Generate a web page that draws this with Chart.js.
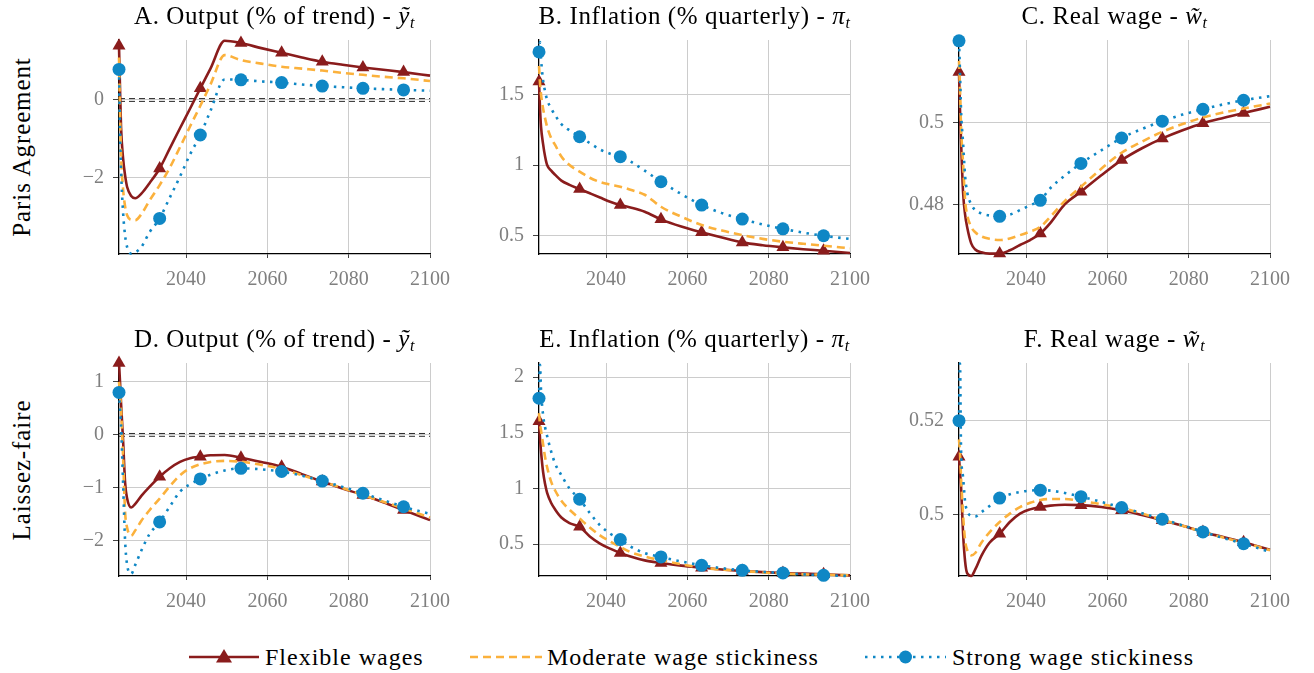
<!DOCTYPE html>
<html><head><meta charset="utf-8">
<script src="https://cdn.jsdelivr.net/npm/chart.js@4.4.0/dist/chart.umd.min.js"></script>
<style>
body{margin:0;width:1314px;height:673px;background:#fff;position:relative;overflow:hidden;font-family:"Liberation Serif",serif;}
canvas{position:absolute;}
.t{position:absolute;font-size:25px;letter-spacing:0.6px;line-height:26px;color:#000;white-space:nowrap;transform:translateX(-50%);}
.t i{font-style:italic;}
.t sub{font-size:16px;vertical-align:-4px;line-height:0;}
.row{position:absolute;font-size:25px;letter-spacing:0.9px;white-space:nowrap;transform:translate(-50%,-50%) rotate(-90deg);}
.lg{position:absolute;font-size:24px;letter-spacing:1px;line-height:28px;top:643px;white-space:nowrap;}
svg{position:absolute;}
</style></head><body>
<script>
// ---------------- data ----------------
const YEARS = [2023.5,2023.75,2024,2024.5,2025,2025.5,2026.5,2027.5,2029,2031,2033.5,2036,2038.5,2041,2043.5,2046,2049.5,2053.5,2058.5,2063.5,2068.5,2073.5,2078.5,2083.5,2088.5,2093.5,2100];
const MARK_YEARS = [2023.5,2033.5,2043.5,2053.5,2063.5,2073.5,2083.5,2093.5];
const X_TICKS = [2040,2060,2080,2100];
const SERIES_NAMES = ['Flexible wages','Moderate wage stickiness','Strong wage stickiness'];

// Panel A: Output, Paris Agreement
const A_FLEX   = [1.40,0.30,-0.70,-1.50,-1.95,-2.25,-2.48,-2.54,-2.42,-2.15,-1.77,-1.25,-0.73,-0.22,0.30,0.81,1.53,1.47,1.34,1.22,1.10,0.99,0.91,0.84,0.78,0.72,0.63];
const A_MOD    = [1.10,-0.30,-1.40,-2.30,-2.75,-2.98,-3.10,-3.11,-2.95,-2.60,-2.20,-1.75,-1.22,-0.68,-0.15,0.40,1.16,1.03,0.94,0.86,0.81,0.76,0.70,0.65,0.60,0.56,0.49];
const A_STRONG = [0.79,-0.80,-1.80,-2.90,-3.50,-3.80,-3.97,-3.94,-3.80,-3.42,-3.06,-2.52,-1.98,-1.40,-0.905,-0.28,0.53,0.52,0.48,0.45,0.40,0.36,0.33,0.30,0.28,0.26,0.24];
const A_YTICKS = [-2,0];
const A_YLABELS = ['\u22122','0'];

// Panel B: Inflation, Paris Agreement
const B_FLEX   = [1.59,1.40,1.27,1.15,1.06,1.00,0.96,0.93,0.89,0.86,0.83,0.80,0.77,0.74,0.717,0.70,0.67,0.616,0.565,0.524,0.487,0.453,0.433,0.418,0.405,0.394,0.378];
const B_MOD    = [1.70,1.58,1.50,1.40,1.33,1.27,1.19,1.14,1.06,1.00,0.953,0.91,0.88,0.862,0.847,0.825,0.79,0.705,0.635,0.576,0.537,0.505,0.478,0.458,0.443,0.43,0.411];
const B_STRONG = [1.80,1.87,1.75,1.60,1.52,1.46,1.40,1.35,1.29,1.245,1.20,1.155,1.11,1.08,1.059,1.025,0.96,0.882,0.795,0.717,0.66,0.618,0.58,0.549,0.522,0.50,0.477];
const B_YTICKS = [0.5,1,1.5];
const B_YLABELS = ['0.5','1','1.5'];

// Panel C: Real wage, Paris Agreement
const C_FLEX   = [0.5123,0.503,0.4955,0.483,0.4775,0.4745,0.4705,0.469,0.4683,0.4680,0.4680,0.4688,0.4701,0.4713,0.4729,0.4755,0.4800,0.4831,0.4871,0.4908,0.4937,0.4961,0.4981,0.4998,0.5011,0.5023,0.5038];
const C_MOD    = [0.515,0.508,0.499,0.490,0.481,0.4775,0.4745,0.4732,0.4722,0.4716,0.4713,0.4717,0.4725,0.4734,0.4745,0.4770,0.4808,0.4843,0.4887,0.4926,0.4953,0.4977,0.4996,0.5012,0.5024,0.5034,0.5046];
const C_STRONG = [0.5199,0.512,0.503,0.495,0.487,0.483,0.4800,0.4786,0.4778,0.4773,0.4771,0.4775,0.4786,0.4798,0.4810,0.4840,0.4870,0.4900,0.4932,0.4962,0.4984,0.5003,0.5019,0.5032,0.5044,0.5054,0.5064];
const C_YTICKS = [0.48,0.5];
const C_YLABELS = ['0.48','0.5'];

// Panel D: Output, Laissez-faire
const D_FLEX   = [1.355,1.0,0.6,-0.1,-0.9,-1.2,-1.37,-1.30,-1.15,-0.98,-0.79,-0.63,-0.51,-0.44,-0.41,-0.385,-0.38,-0.43,-0.51,-0.60,-0.74,-0.88,-1.01,-1.134,-1.27,-1.418,-1.607];
const D_MOD    = [1.0,0.8,0.5,-0.4,-1.45,-1.75,-1.90,-1.80,-1.62,-1.42,-1.20,-0.97,-0.76,-0.63,-0.554,-0.51,-0.49,-0.505,-0.565,-0.643,-0.76,-0.88,-1.00,-1.134,-1.26,-1.386,-1.56];
const D_STRONG = [0.80,0.5,0.2,-0.9,-2.0,-2.45,-2.62,-2.45,-2.18,-1.87,-1.64,-1.35,-1.07,-0.93,-0.83,-0.75,-0.67,-0.63,-0.65,-0.69,-0.77,-0.87,-0.98,-1.10,-1.23,-1.355,-1.49];
const D_YTICKS = [-2,-1,0,1];
const D_YLABELS = ['\u22122','\u22121','0','1'];

// Panel E: Inflation, Laissez-faire
const E_FLEX   = [1.604,1.45,1.33,1.15,1.04,0.96,0.87,0.81,0.74,0.69,0.656,0.57,0.506,0.46,0.422,0.39,0.355,0.332,0.308,0.29,0.273,0.26,0.25,0.242,0.236,0.23,0.221];
const E_MOD    = [1.676,1.58,1.52,1.40,1.28,1.19,1.06,0.98,0.89,0.81,0.73,0.65,0.58,0.525,0.476,0.43,0.39,0.356,0.32,0.29,0.272,0.26,0.247,0.236,0.23,0.227,0.221];
const E_STRONG = [1.81,2.11,1.88,1.66,1.55,1.47,1.33,1.22,1.12,1.00,0.904,0.78,0.67,0.595,0.542,0.48,0.42,0.386,0.345,0.311,0.285,0.266,0.252,0.242,0.23,0.221,0.215];
const E_YTICKS = [0.5,1,1.5,2];
const E_YLABELS = ['0.5','1','1.5','2'];

// Panel F: Real wage, Laissez-faire
const F_FLEX   = [0.5123,0.509,0.506,0.496,0.4900,0.4875,0.4869,0.4883,0.4912,0.4940,0.4959,0.4984,0.5002,0.5011,0.5016,0.5019,0.5021,0.5020,0.5016,0.5009,0.4999,0.4988,0.4976,0.4963,0.4952,0.4941,0.4925];
const F_MOD    = [0.516,0.513,0.508,0.500,0.4945,0.4925,0.4913,0.4918,0.4940,0.4962,0.4984,0.5002,0.5016,0.5025,0.5031,0.5033,0.5033,0.5029,0.5022,0.5014,0.5002,0.4989,0.4976,0.4963,0.4951,0.4940,0.4924];
const F_STRONG = [0.5200,0.5322,0.514,0.508,0.5027,0.5008,0.4997,0.4996,0.5005,0.5018,0.5035,0.5043,0.5048,0.5051,0.5052,0.5051,0.5046,0.5038,0.5027,0.5015,0.5003,0.4990,0.4977,0.4963,0.4950,0.4938,0.4920];
const F_YTICKS = [0.5,0.52];
const F_YLABELS = ['0.5','0.52'];

// ---------------- layout / style ----------------
const COLORS = ['#8a1c1c','#fbb13c','#0f87c5'];
const TITLES = [
  ['A. Output (% of trend) - ','<i>ỹ<sub>t</sub></i>'],
  ['B. Inflation (% quarterly) - ','<i>π<sub>t</sub></i>'],
  ['C. Real wage - ','<i>w̃<sub>t</sub></i>'],
  ['D. Output (% of trend) - ','<i>ỹ<sub>t</sub></i>'],
  ['E. Inflation (% quarterly) - ','<i>π<sub>t</sub></i>'],
  ['F. Real wage - ','<i>w̃<sub>t</sub></i>']
];
const PANELS = [
  {s:[A_FLEX,A_MOD,A_STRONG], yt:A_YTICKS, yl:A_YLABELS, ymin:-3.98, ymax:1.55, zero:true,  L:119,R:430,T:40,B:254},
  {s:[B_FLEX,B_MOD,B_STRONG], yt:B_YTICKS, yl:B_YLABELS, ymin:0.371, ymax:1.884, zero:false, L:539,R:850,T:40,B:254},
  {s:[C_FLEX,C_MOD,C_STRONG], yt:C_YTICKS, yl:C_YLABELS, ymin:0.4679, ymax:0.5201, zero:false, L:959,R:1270,T:40,B:254},
  {s:[D_FLEX,D_MOD,D_STRONG], yt:D_YTICKS, yl:D_YLABELS, ymin:-2.66, ymax:1.355, zero:true,  L:119,R:430,T:363,B:576},
  {s:[E_FLEX,E_MOD,E_STRONG], yt:E_YTICKS, yl:E_YLABELS, ymin:0.215, ymax:2.126, zero:false, L:539,R:850,T:363,B:576},
  {s:[F_FLEX,F_MOD,F_STRONG], yt:F_YTICKS, yl:F_YLABELS, ymin:0.4869, ymax:0.5323, zero:false, L:959,R:1270,T:363,B:576}
];

const zeroLine = {
  id:'zeroLine',
  beforeDatasetsDraw(chart, args, opts){
    if(!opts.show) return;
    const ctx = chart.ctx, y = chart.scales.y.getPixelForValue(0);
    const {left,right} = chart.chartArea;
    ctx.save(); ctx.setLineDash([6,4]); ctx.strokeStyle='#2a2a2a'; ctx.lineWidth=1;
    for(const d of [-1.4,1.4]){ ctx.beginPath(); ctx.moveTo(left,y+d); ctx.lineTo(right,y+d); ctx.stroke(); }
    ctx.restore();
  }
};

const PAD_L=70, PAD_T=30, PAD_R=30, PAD_B=40;
const TICK_FONT = {family:"'Liberation Serif', serif", size:20};
Chart.defaults.font.family = TICK_FONT.family;

PANELS.forEach((p,pi)=>{
  const cv = document.createElement('canvas');
  const w = p.R-p.L+PAD_L+PAD_R, h = p.B-p.T+PAD_T+PAD_B;
  cv.width=w; cv.height=h;
  cv.style.left=(p.L-PAD_L)+'px'; cv.style.top=(p.T-PAD_T)+'px';
  cv.style.width=w+'px'; cv.style.height=h+'px';
  document.body.appendChild(cv);

  const t = document.createElement('div');
  t.className='t'; t.innerHTML = TITLES[pi][0]+TITLES[pi][1];
  t.style.left=((p.L+p.R)/2)+'px'; t.style.top=(p.T-37)+'px';
  document.body.appendChild(t);

  const styles = [
    {borderDash:[], pointStyle:'triangle', r:7.5, order:2},
    {borderDash:[8,5], pointStyle:false, r:0, order:1},
    {borderDash:[2.5,5.5], pointStyle:'circle', r:6.5, order:0}
  ];
  const datasets = p.s.map((vals,si)=>({
    label: SERIES_NAMES[si],
    data: YEARS.map((x,i)=>({x, y: vals[i]})),
    borderColor: COLORS[si], backgroundColor: COLORS[si],
    borderWidth: 2.6, borderDash: styles[si].borderDash,
    cubicInterpolationMode:'monotone',
    pointStyle: styles[si].pointStyle || 'circle',
    pointRadius: ctx => (styles[si].r && MARK_YEARS.includes(YEARS[ctx.dataIndex])) ? styles[si].r : 0,
    pointBorderWidth: 0,
    pointHoverRadius: 0,
    order: styles[si].order,
    clip: false
  }));

  new Chart(cv, {
    type:'line',
    data:{datasets},
    plugins:[zeroLine],
    options:{
      responsive:false, animation:false, devicePixelRatio:1,
      font:{family:TICK_FONT.family},
      layout:{padding:{top:PAD_T,right:PAD_R,left:0,bottom:0}},
      plugins:{legend:{display:false}, tooltip:{enabled:false}, zeroLine:{show:p.zero}},
      scales:{
        x:{
          type:'linear', min:2023.5, max:2100,
          afterBuildTicks:a=>{a.ticks = X_TICKS.map(v=>({value:v}));},
          afterFit:s=>{s.height=PAD_B;},
          grid:{color:'#cccccc', lineWidth:1, tickLength:4, tickColor:'#444'},
          border:{display:true, color:'#000', width:1.3},
          ticks:{color:'#7f7f7f', font:{family:TICK_FONT.family, size:TICK_FONT.size}, padding:10, maxRotation:0, autoSkip:false, callback:v=>String(v)}
        },
        y:{
          type:'linear', min:p.ymin, max:p.ymax,
          afterBuildTicks:a=>{a.ticks = p.yt.map(v=>({value:v}));},
          afterFit:s=>{s.width=PAD_L;},
          grid:{color:'#cccccc', lineWidth:1, tickLength:6, tickColor:'#444'},
          border:{display:true, color:'#000', width:1.3},
          ticks:{color:'#7f7f7f', font:{family:TICK_FONT.family, size:TICK_FONT.size}, padding:9, autoSkip:false,
            callback:v=>{const k=p.yt.findIndex(t=>Math.abs(t-v)<1e-9); return k>=0?p.yl[k]:'';}}
        }
      }
    }
  });
});

// row labels
[['Paris Agreement',22,147],['Laissez-faire',22,470]].forEach(([txt,x,y])=>{
  const d=document.createElement('div'); d.className='row'; d.textContent=txt;
  d.style.left=x+'px'; d.style.top=y+'px'; document.body.appendChild(d);
});

// legend
const LEG = [
  {x1:189,x2:259,text:265,dash:'',mark:'tri'},
  {x1:470,x2:542,text:547,dash:'8,5',mark:null},
  {x1:865,x2:946,text:952,dash:'2.5,5.5',mark:'circ'}
];
LEG.forEach((g,i)=>{
  const sv=document.createElementNS('http://www.w3.org/2000/svg','svg');
  const w=g.x2-g.x1+4;
  sv.setAttribute('width',w); sv.setAttribute('height',28);
  sv.style.left=(g.x1-2)+'px'; sv.style.top='643px';
  let inner=`<line x1="2" y1="14" x2="${w-2}" y2="14" stroke="${COLORS[i]}" stroke-width="2.6" ${g.dash?`stroke-dasharray="${g.dash}"`:''}/>`;
  const cx=w/2;
  if(g.mark==='tri') inner+=`<polygon points="${cx},6 ${cx+8},19.5 ${cx-8},19.5" fill="${COLORS[i]}"/>`;
  if(g.mark==='circ') inner+=`<circle cx="${cx}" cy="14" r="6.5" fill="${COLORS[i]}"/>`;
  sv.innerHTML=inner; document.body.appendChild(sv);
  const s=document.createElement('div'); s.className='lg'; s.textContent=SERIES_NAMES[i];
  s.style.left=g.text+'px'; document.body.appendChild(s);
});
</script>
</body></html>
